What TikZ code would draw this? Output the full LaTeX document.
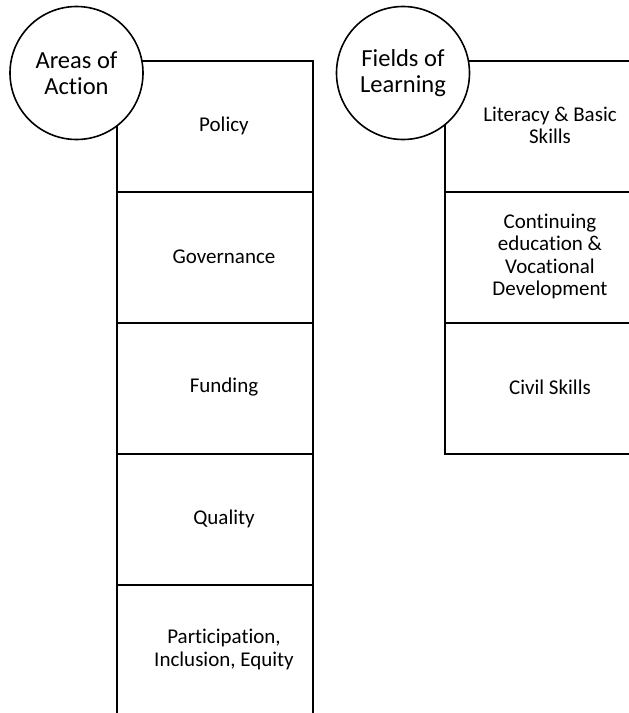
\documentclass[tikz,border=0pt]{standalone}
\usepackage{fontspec}
\setmainfont[Ligatures=NoCommon]{Carlito}
\begin{document}
\begin{tikzpicture}[x=1pt,y=-1pt,
  cell/.style={draw, line width=1.6pt, minimum width=196pt, minimum height=131pt, inner sep=0pt, anchor=north west},
  celltext/.style={font=\fontsize{21}{22.2}\selectfont, align=center, inner sep=0pt},
  badge/.style={circle, draw, fill=white, line width=1.6pt, minimum size=133pt, inner sep=0pt, font=\fontsize{24.5}{26}\selectfont, align=center}]
\useasboundingbox (0,0) rectangle (629,713);
\clip (0,0) rectangle (629,713);
% left column
\node[cell] (a1) at (116,60) {};
\node[cell] (a2) at (116,191) {};
\node[cell] (a3) at (116,322) {};
\node[cell] (a4) at (116,453) {};
\node[cell] (a5) at (116,584) {};
\node[celltext] (ta1) at (224,125.5) {Policy};
\node[celltext] (ta2) at (224,256.5) {Governance};
\node[celltext] (ta3) at (224,387.5) {Funding};
\node[celltext] (ta4) at (224,518.5) {Quality};
\node[celltext] (ta5) at (224,649.5) {Participation,\\Inclusion, Equity};
% right column
\node[cell] (f1) at (444,60) {};
\node[cell] (f2) at (444,191) {};
\node[cell] (f3) at (444,322) {};
\node[celltext] (tf1) at (550,125.5) {Literacy \& Basic\\Skills};
\node[celltext] (tf2) at (550,256.5) {Continuing\\education \&\\Vocational\\Development};
\node[celltext] (tf3) at (550,387.5) {Civil Skills};
% circles
\node[badge] (areas) at (76.5,73) {Areas of\\Action};
\node[badge] (fields) at (403,73) {Fields of\\Learning};
\end{tikzpicture}
\end{document}
